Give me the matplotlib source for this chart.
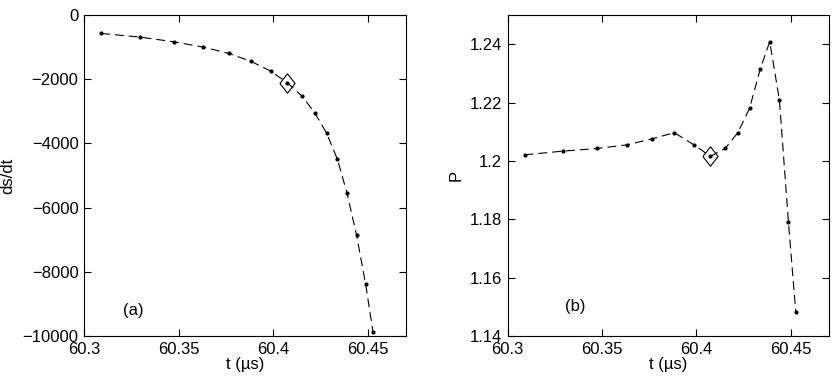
import numpy as np
import matplotlib
matplotlib.use('Agg')
import matplotlib.pyplot as plt

plt.rcParams['font.family'] = ['Liberation Sans', 'DejaVu Sans']

# time samples (us), shared by both panels
t = [60.309, 60.3295, 60.3475, 60.363, 60.3765, 60.3883, 60.3985, 60.4074,
     60.4152, 60.4219, 60.4281, 60.4338, 60.4388, 60.4439, 60.4487, 60.4526]
# panel (a): ds/dt
dsdt = [-570, -685, -832, -997, -1194, -1444, -1745, -2108,
        -2533, -3053, -3685, -4496, -5536, -6863, -8389, -9885]
# panel (b): P
P = [1.2021, 1.2034, 1.2043, 1.2055, 1.2076, 1.2097, 1.2056, 1.2016,
     1.2043, 1.2097, 1.2180, 1.2316, 1.2409, 1.2210, 1.1791, 1.1481]
marked = 7  # index of the diamond point

xticks = [60.3, 60.35, 60.4, 60.45]
xticklabels = ['60.3', '60.35', '60.4', '60.45']
yticks_a = [0, -2000, -4000, -6000, -8000, -10000]
yticks_b = [1.14, 1.16, 1.18, 1.2, 1.22, 1.24]
yticklabels_b = ['1.14', '1.16', '1.18', '1.2', '1.22', '1.24']

# matlab-like diamond, a bit taller than wide
diamond = [(-0.78, 0), (0, 1), (0.78, 0), (0, -1), (-0.78, 0)]

fig = plt.figure(figsize=(8.32, 3.78), dpi=100)
ax0 = fig.add_axes([0.101, 0.111, 0.387, 0.849])
ax1 = fig.add_axes([0.610, 0.111, 0.386, 0.849])

def draw(ax, y):
    ax.plot(t, y, linestyle=(0, (8, 4.5)), color='black', linewidth=0.8,
            marker='.', markersize=4)
    ax.plot(t[marked], y[marked], marker=diamond, markersize=14, markerfacecolor='none',
            markeredgecolor='black', markeredgewidth=0.8, linestyle='none')
    ax.set_xlim(60.3, 60.47)
    ax.set_xticks(xticks)
    ax.set_xticklabels(xticklabels)
    ax.tick_params(direction='in', top=True, right=True, labelsize=12, length=5, pad=4)
    ax.set_xlabel('t (\u00b5s)', fontsize=12, labelpad=0)
    for s in ax.spines.values():
        s.set_linewidth(0.8)

draw(ax0, dsdt)
ax0.set_ylim(-10000, 0)
ax0.set_yticks(yticks_a)
ax0.set_ylabel('ds/dt', fontsize=12, labelpad=5)
ax0.text(0.153, 0.081, '(a)', transform=ax0.transAxes, fontsize=12,
         ha='center', va='center')

draw(ax1, P)
ax1.set_ylim(1.14, 1.25)
ax1.set_yticks(yticks_b)
ax1.set_yticklabels(yticklabels_b)
ax1.set_ylabel('P', fontsize=12)
ax1.text(0.212, 0.093, '(b)', transform=ax1.transAxes, fontsize=12,
         ha='center', va='center')

fig.savefig('out.png', dpi=100)
